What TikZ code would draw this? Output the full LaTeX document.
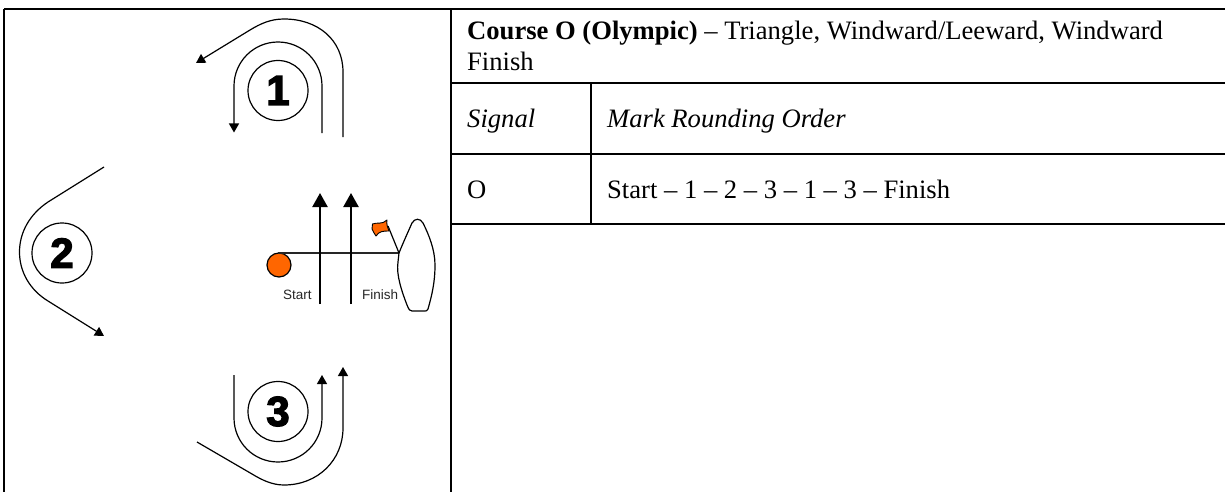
\documentclass[tikz,border=0pt]{standalone}
\usepackage{fontspec}
\setmainfont{Liberation Serif}
\newfontfamily\arialf{Liberation Sans}
\newfontfamily\heavyf[BoldFeatures={FakeBold=3}]{Liberation Sans}
\usetikzlibrary{arrows.meta}
\tikzset{
  x=1pt,y=-1pt,
  rule/.style={line width=1.8pt,black},
  route/.style={line width=1.2pt,black},
  routetip/.style={route,-{Triangle[length=9pt,width=10pt]}},
  lineup/.style={line width=2.3pt,black,-{Triangle[length=14pt,width=15pt]}},
  buoy/.style={circle,draw=black,line width=1.2pt,minimum size=60pt,inner sep=0pt,font=\heavyf\fontsize{42}{42}\selectfont\bfseries},
  cell/.style={anchor=base west,inner sep=0pt,font=\fontsize{26.6}{30}\selectfont},
  small/.style={anchor=base west,inner sep=0pt,font=\arialf\fontsize{13.5}{15}\selectfont,text=black!85}
}
\definecolor{markorange}{RGB}{255,102,0}
\begin{document}
\begin{tikzpicture}
\useasboundingbox (0,0) rectangle (1225,492);
% table rules
\coordinate (tl) at (4,9); \coordinate (tr) at (1225,9);
\coordinate (bl) at (4,492); \coordinate (mt) at (451,9); \coordinate (mb) at (451,492);
\coordinate (r1l) at (451,83); \coordinate (r1r) at (1225,83);
\coordinate (r2l) at (451,154); \coordinate (r2r) at (1225,154);
\coordinate (r3l) at (451,224); \coordinate (r3r) at (1225,224);
\coordinate (c1) at (591,83); \coordinate (c2) at (591,224);
\draw[rule] (tl) -- (tr);
\draw[rule] (tl) -- (bl);
\draw[rule] (mt) -- (mb);
\draw[rule] (r1l) -- (r1r);
\draw[rule] (r2l) -- (r2r);
\draw[rule] (r3l) -- (r3r);
\draw[rule] (c1) -- (c2);
% text
\node[cell] (title) at (467,40) {\textbf{Course O (Olympic)} -- Triangle, Windward/Leeward, Windward};
\node[cell] (title2) at (467,70.5) {Finish};
\node[cell] (sig) at (467,128) {\textit{Signal}};
\node[cell] (order) at (607,128) {\textit{Mark Rounding Order}};
\node[cell] (o) at (467,198) {O};
\node[cell] (seq) at (607,198) {Start -- 1 -- 2 -- 3 -- 1 -- 3 -- Finish};
% marks
\node[buoy] (m1) at (278,90.5) {1};
\node[buoy] (m2) at (62,253) {2};
\node[buoy] (m3) at (278,411.5) {3};
% mark 1 routes
\coordinate (a1) at (322,133); \coordinate (a2) at (234,132.5);
\draw[routetip] (a1) -- (322,86) arc[start angle=0,end angle=-180,radius=44] -- (a2);
\coordinate (b1) at (343,137); \coordinate (b2) at (196,63);
\draw[routetip] (b1) -- (343,72) .. controls (343,40) and (318,19) .. (284,19) .. controls (270,19) and (260,24) .. (250,30) -- (b2);
% mark 2 route
\coordinate (c3) at (104,167); \coordinate (c4) at (104,336);
\draw[routetip] (c3) -- (48,202) .. controls (30,214) and (19.5,232) .. (19.5,252) .. controls (19.5,272) and (30,290) .. (48,301) -- (c4);
% mark 3 routes
\coordinate (d1) at (234,375); \coordinate (d2) at (322,375);
\draw[routetip] (d1) -- (234,418) arc[start angle=-180,end angle=-360,radius=44] -- (d2);
\coordinate (e1) at (197,442); \coordinate (e2) at (343,367);
\draw[routetip] (e1) -- (252,474) .. controls (262,480) and (272,485) .. (284,485) .. controls (318,485) and (343,460) .. (343,428) -- (e2);
% start / finish
\node[circle,draw=black,line width=1.2pt,fill=markorange,minimum size=24pt,inner sep=0pt] (pin) at (279,265) {};
\coordinate (boat) at (399,253);
\draw[line width=1.2pt,black!85] (278,253) -- (boat);
\coordinate (s1) at (320,304); \coordinate (s2) at (320,193);
\coordinate (f1) at (351,304); \coordinate (f2) at (351,193);
\draw[lineup] (s1) -- (s2);
\draw[lineup] (f1) -- (f2);
\node[small] (st) at (283,299) {Start};
\node[small] (fi) at (362,299) {Finish};
\draw[line width=1.2pt,black,line join=round] (boat) .. controls (403,243) and (408,232) .. (412,223) .. controls (415,218) and (420,218) .. (423,223) .. controls (429,235) and (435,250) .. (435,265) .. controls (435,282) and (432,295) .. (428,309) .. controls (427,311) and (426,311) .. (425,311) -- (412,311) .. controls (410,311) and (409,310) .. (407,305) .. controls (402,292) and (396,275) .. (398,262) -- cycle;
\coordinate (fp) at (388,226);
\draw[line width=1.2pt,black] (boat) -- (fp);
\draw[line width=0.9pt,black,fill=markorange,line join=round] (387,220) .. controls (386,224) and (388,228) .. (389,231) .. controls (384,231) and (379,231) .. (376,236) .. controls (375,234) and (373,232) .. (372,229) .. controls (373,227) and (373,226) .. (372.5,224) .. controls (377,222) and (382,225) .. (387,220) -- cycle;
\end{tikzpicture}
\end{document}
